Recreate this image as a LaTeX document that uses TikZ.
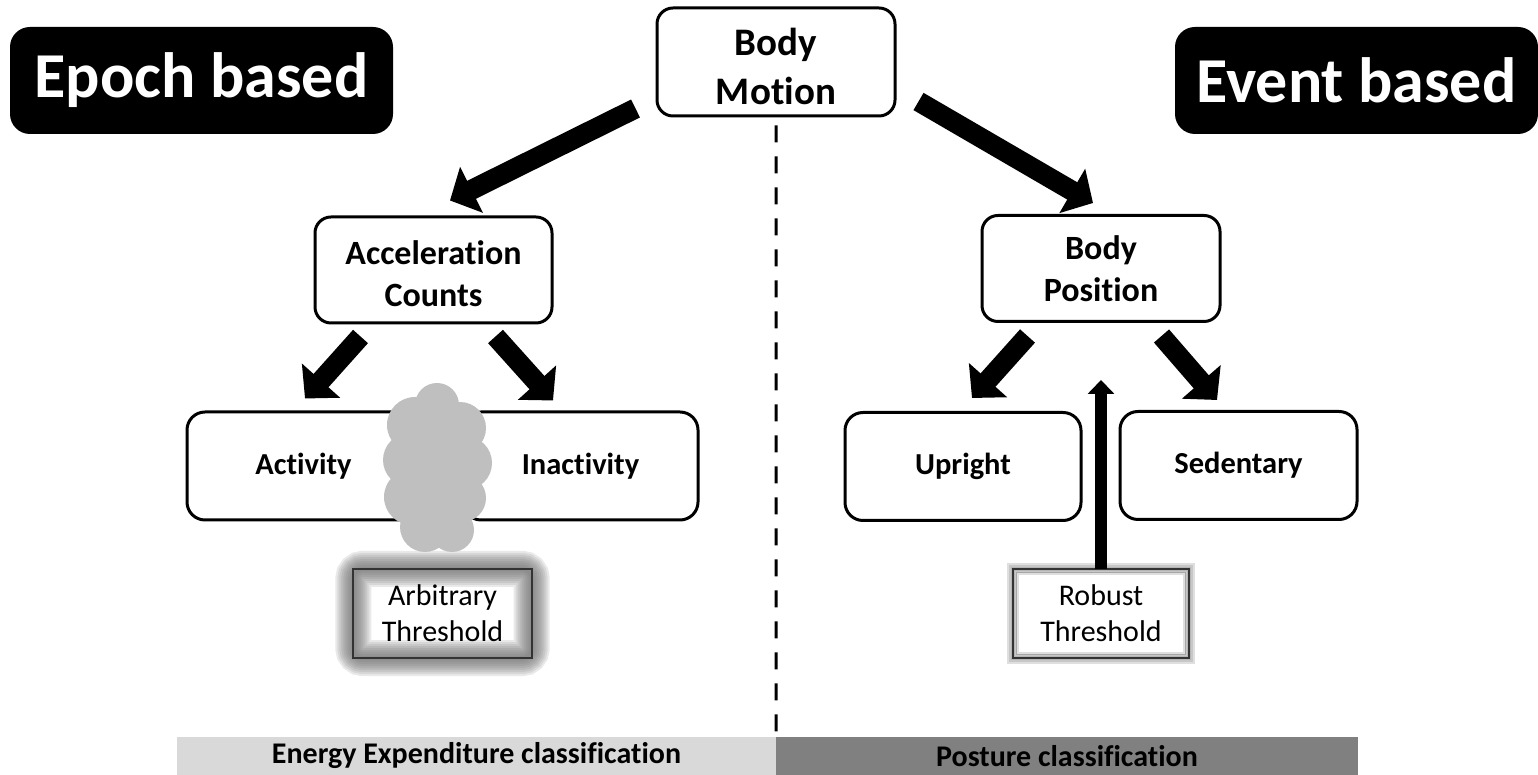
\documentclass[tikz,border=0pt]{standalone}
\usepackage{fontspec}
\setmainfont{Carlito}[Ligatures=NoCommon]
\usetikzlibrary{arrows.meta,backgrounds}

\begin{document}
\begin{tikzpicture}[x=1pt,y=1pt,
  box/.style={draw,line width=3pt,rounded corners=16pt,fill=white,align=center,inner sep=0pt},
  tag/.style={fill=black,text=white,rounded corners=20pt,inner sep=0pt,
    minimum height=107pt,font=\fontsize{64}{70}\selectfont\bfseries},
  top/.style={box,minimum width=238pt,minimum height=108pt,font=\fontsize{39}{49}\selectfont\bfseries},
  mid/.style={box,minimum width=237pt,minimum height=106pt,font=\fontsize{34}{42}\selectfont\bfseries},
  leaf/.style={box,rounded corners=18pt,minimum height=108pt,font=\fontsize{30.5}{36}\selectfont\bfseries},
  thresh/.style={align=center,inner sep=0pt,minimum width=178pt,minimum height=89pt,
    font=\fontsize{30}{36}\selectfont},
  bar/.style={inner sep=0pt,minimum height=38pt,font=\fontsize{30}{36}\selectfont\bfseries},
  blockarrow/.style={line width=20pt,-{Triangle[length=24pt,width=50pt]}},
  puff/.style={fill=black!25}]
  \useasboundingbox (0,0) rectangle (1538,775);

  % Headers
  \node[tag,minimum width=383pt] (epoch) at (201.5,694.5) {Epoch based};
  \node[tag,minimum width=363pt] (event) at (1356.5,694.5) {Event based};

  % Tree
  \node[top] (motion) at (776,713) {\rule{0pt}{36pt}Body\\Motion};
  \node[mid] (accel) at (433.5,505) {\rule{0pt}{31pt}Acceleration\\Counts};
  \node[mid,minimum width=238pt] (position) at (1101,506.5) {Body\\Position};
  \node[leaf,minimum width=233pt] (activity) at (303.5,309) {Activity};
  \node[leaf,minimum width=235pt] (inactivity) at (580.5,309) {Inactivity};
  \node[leaf,minimum width=236pt] (upright) at (963,308.5) {Upright};
  \node[leaf,minimum width=237pt] (sedentary) at (1238.5,309.5) {Sedentary};

  % Bottom bars
  \node[bar,fill=black!15,minimum width=599pt] (energy) at (476.5,19) {Energy Expenditure classification};
  \node[bar,fill=black!50,minimum width=582pt] (posture) at (1067,19) {Posture classification};

  % Divider
  \draw[line width=3pt,dash pattern=on 17pt off 14pt]
    ([yshift=-8]motion.south) -- (energy.north east);

  % Arrows
  \draw[blockarrow] ([shift={(-20,9)}]motion.south west) -- ([shift={(16.5,15)}]accel.north);
  \draw[blockarrow] ([shift={(22,16)}]motion.south east) -- ([shift={(-8,11)}]position.north);
  \draw[blockarrow] ([shift={(47,-12)}]accel.south west) -- ([shift={(1.5,12)}]activity.north);
  \draw[blockarrow] ([shift={(-58,-12)}]accel.south east) -- ([shift={(-27.5,10)}]inactivity.north);
  \draw[blockarrow] ([shift={(47,-13)}]position.south west) -- ([shift={(9,13)}]upright.north);
  \draw[blockarrow] ([shift={(-60,-13)}]position.south east) -- ([shift={(-21.5,10)}]sedentary.north);

  % Cloud between activity and inactivity
  \foreach \cx/\cy/\r in {437/370/22,415/350/28,460/347/26,410/315/27,465/312/27,
                          412/278/28,462/277/24,425/248/25,452/245/22,
                          437/340/28,437/305/28,437/272/28}
    \fill[puff] (\cx,\cy) circle (\r);

  % Thresholds
  \node[thresh] (arbitrary) at (442.5,161.5) {Arbitrary\\Threshold};
  \node[thresh,minimum width=176pt] (robust) at (1101,161.5) {Robust\\Threshold};
  \begin{scope}[on background layer]
    \foreach \w in {36,32,...,4}
      \draw[black!60,line width=\w pt,opacity=0.14,rounded corners=10pt]
        (arbitrary.south west) rectangle (arbitrary.north east);
    \foreach \w in {12,8,4}
      \draw[black!50,line width=\w pt,opacity=0.25]
        (robust.south west) rectangle (robust.north east);
  \end{scope}
  \draw[black!80,line width=2pt] (arbitrary.south west) rectangle (arbitrary.north east);
  \draw[black!80,line width=2.5pt] (robust.south west) rectangle (robust.north east);
  \draw[black!35,line width=1pt] ([shift={(4,4)}]robust.south west) rectangle ([shift={(-4,-4)}]robust.north east);

  % Robust threshold pointer
  \coordinate (hint) at (1101,395);
  \draw[line width=12pt,-{Triangle[length=14pt,width=26pt]}] (robust.north) -- (hint);
\end{tikzpicture}
\end{document}
